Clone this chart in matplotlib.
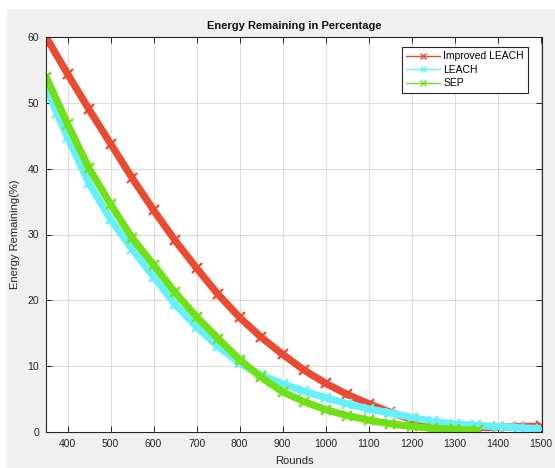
#!/usr/bin/env python3

import matplotlib
matplotlib.use("Agg")
import matplotlib.pyplot as plt
from matplotlib.lines import Line2D
from matplotlib.patches import Rectangle

# values, every 50 rounds
rounds_improved = [350, 400, 450, 500, 550, 600, 650, 700, 750, 800, 850, 900,
                   950, 1000, 1050, 1100, 1150, 1200, 1250, 1300, 1350, 1400,
                   1450, 1500]
energy_improved = [60.0, 54.4, 49.0, 43.8, 38.6, 33.7, 29.1, 24.9, 20.9, 17.4,
                   14.4, 11.8, 9.4, 7.4, 5.7, 4.3, 3.0, 1.9, 1.1, 0.8, 0.7,
                   0.7, 0.8, 0.9]

rounds_leach = [350, 375, 400, 450, 500, 550, 600, 650, 700, 750, 800, 850,
                900, 950, 1000, 1050, 1100, 1150, 1200, 1250, 1300, 1350,
                1400, 1450, 1500]
energy_leach = [52.5, 48.5, 44.8, 37.8, 32.3, 27.8, 23.6, 19.4, 16.0, 13.0,
                10.5, 8.6, 7.3, 6.2, 5.2, 4.3, 3.5, 2.9, 2.2, 1.6, 1.2, 1.0,
                0.8, 0.65, 0.5]

rounds_sep = [350, 400, 450, 500, 550, 600, 650, 700, 750, 800, 850, 900,
              950, 1000, 1050, 1100, 1150, 1200, 1250, 1300, 1355]
energy_sep = [54.0, 46.8, 40.1, 34.6, 29.5, 25.4, 21.2, 17.5, 14.2, 11.0, 8.3,
              6.1, 4.6, 3.4, 2.5, 1.8, 1.25, 0.85, 0.55, 0.4, 0.25]

labels = ["Improved LEACH", "LEACH", "SEP"]
colors = ["#ea4a30", "#66f0fa", "#72e016"]

x_ticks = list(range(400, 1501, 100))
y_ticks = list(range(0, 61, 10))

plt.rcParams["font.family"] = ["Liberation Sans", "DejaVu Sans"]

fig = plt.figure(figsize=(5.55, 4.68), dpi=100, facecolor="white")
# grey MATLAB figure area, with the white strip of the screenshot left/top
fig.patches.append(Rectangle((7 / 555, 0), 1, 1 - 9 / 468,
                             transform=fig.transFigure, color="#f0f0f0",
                             zorder=-10))

ax = fig.add_axes([46 / 555, 36 / 468, 496 / 555, 395 / 468])
ax.set_facecolor("white")

series = [(rounds_improved, energy_improved),
          (rounds_leach, energy_leach),
          (rounds_sep, energy_sep)]
for (r, e), c in zip(series, colors):
    ax.plot(r, e, color=c, lw=5.2, marker="x", ms=6.5, mew=1.6,
            solid_capstyle="butt", solid_joinstyle="round")

ax.set_xlim(350, 1503)
ax.set_ylim(0, 60)
ax.set_xticks(x_ticks)
ax.set_yticks(y_ticks)
ax.grid(True, color="#dcdcdc", lw=0.7)
ax.set_axisbelow(True)
ax.tick_params(direction="in", length=4, width=0.7, top=True, right=True,
               labelsize=7.5, colors="#262626", pad=5)
for s in ax.spines.values():
    s.set_color("#262626")
    s.set_linewidth(0.8)

ax.set_title("Energy Remaining in Percentage", fontsize=8, fontweight="bold",
             color="#111111", pad=6)
ax.set_xlabel("Rounds", fontsize=8, color="#262626", labelpad=5)
ax.set_ylabel("Energy Remaining(%)", fontsize=8, color="#262626", labelpad=5)

handles = [Line2D([], [], color=c, lw=1, marker="x", ms=5, mew=1)
           for c in colors]
leg = ax.legend(handles, labels, loc="upper right",
                bbox_to_anchor=(0.9718, 0.9747), borderaxespad=0,
                fontsize=7.5, handlelength=3.3, handletextpad=0.3,
                labelspacing=0.35, borderpad=0.4, fancybox=False,
                framealpha=1, edgecolor="#262626")
leg.get_frame().set_linewidth(0.8)

fig.savefig("out.png", dpi=100, facecolor=fig.get_facecolor())
